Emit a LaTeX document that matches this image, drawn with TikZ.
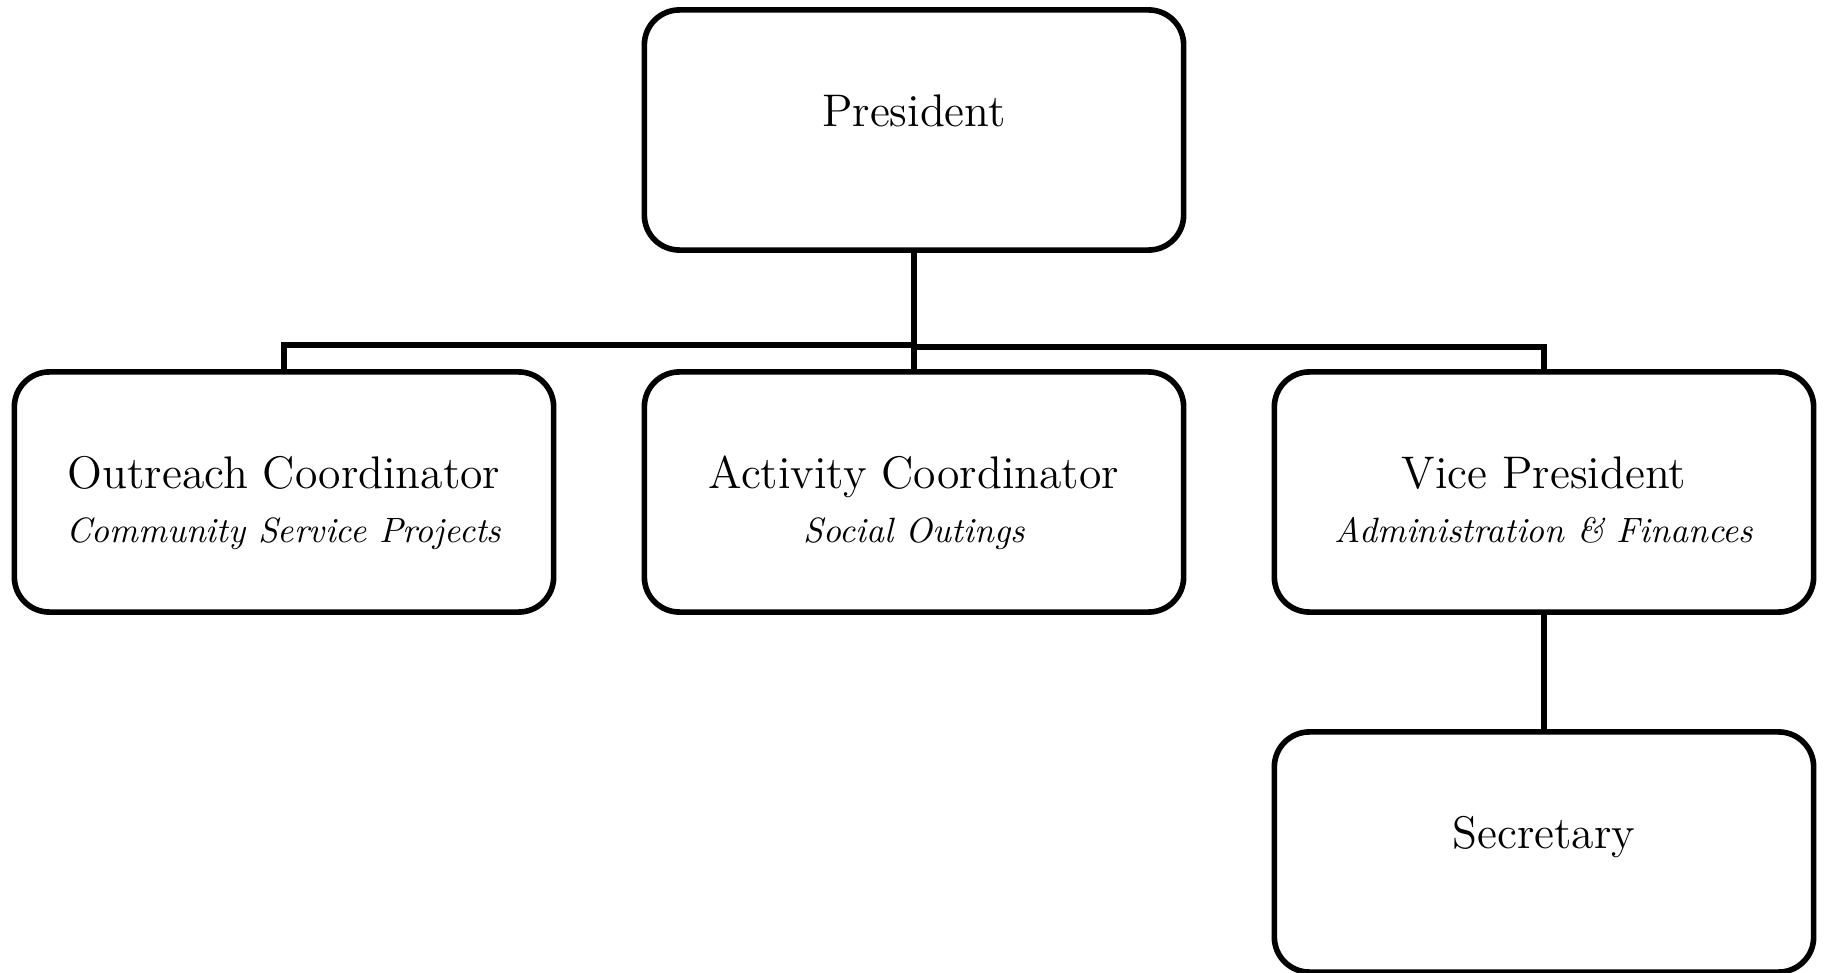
\documentclass[tikz,border=0pt]{standalone}
\usetikzlibrary{positioning}

\newcommand{\role}[2]{\rule{0pt}{17pt}#1\\[0pt]{\normalsize\itshape\strut #2}}

\begin{document}
\begin{tikzpicture}[x=0.01cm, y=-0.01cm,
    box/.style={draw, line width=1.6pt, rounded corners=0.35cm, minimum width=5.39cm, minimum height=2.40cm, align=center, font=\fontsize{13}{15.6}\selectfont},
    link/.style={line width=1.6pt}]
  \useasboundingbox (0,0) rectangle (1826,973); % page size

  % Boxes of the committee
  \node[box] (pres) at (914,130) {\role{President}{}};
  \node[box] (out) at (284,492) {\role{Outreach Coordinator}{Community Service Projects}};
  \node[box] (act) at (914,492) {\role{Activity Coordinator}{Social Outings}};
  \node[box] (vp) at (1544,492) {\role{Vice President}{Administration \& Finances}};
  \node[box] (sec) at (1544,852) {\role{Secretary}{}};

  % Connecting lines
  \coordinate (busl) at (914,345);
  \coordinate (busr) at (914,347);
  \draw[link] (pres) -- (act); % President down to Activity
  \draw[link] (out.north) |- (busl); % left branch
  \draw[link] (vp.north) |- (busr); % right branch
  \draw[link] (vp) -- (sec); % VP down to Secretary
\end{tikzpicture}
\end{document}
